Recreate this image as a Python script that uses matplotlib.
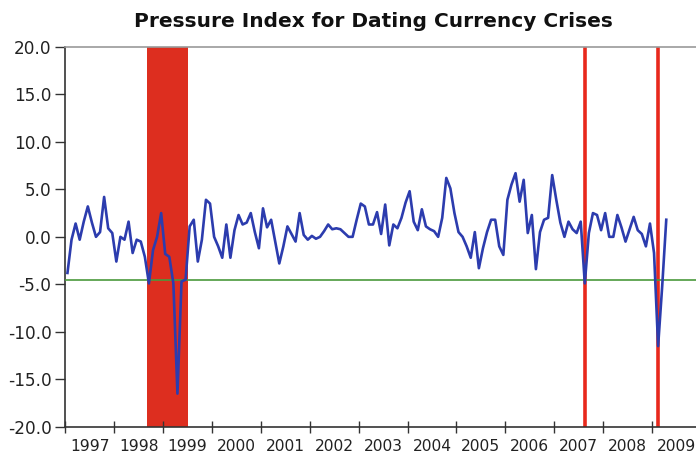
"""
Pressure index chart with crisis episodes marked.
"""

import matplotlib

matplotlib.use("Agg")
import matplotlib.pyplot as plt
import numpy as np
from matplotlib.ticker import FixedLocator, NullFormatter


OUTPUT_PATH = "out.png"

START_YEAR = 1997

# Monthly pressure index, Jan 1997 - Apr 2009
pressure_index = [
    -3.8, -0.3, 1.4, -0.3, 1.6, 3.2, 1.5, 0.0, 0.5, 4.2, 0.9, 0.4,
    -2.6, 0.0, -0.3, 1.6, -1.7, -0.3, -0.5, -2.1, -4.9, -1.4, 0.0, 2.5,
    -1.8, -2.1, -4.9, -16.5, -4.7, -4.5, 1.1, 1.8, -2.6, -0.3, 3.9, 3.5,
    0.0, -1.0, -2.2, 1.3, -2.2, 0.7, 2.3, 1.3, 1.5, 2.5, 0.5, -1.2,
    3.0, 1.0, 1.8, -0.5, -2.8, -1.0, 1.1, 0.3, -0.5, 2.5, 0.2, -0.3,
    0.1, -0.2, 0.0, 0.6, 1.3, 0.8, 0.9, 0.8, 0.4, 0.0, 0.0, 1.8,
    3.5, 3.2, 1.3, 1.3, 2.6, 0.3, 3.4, -0.9, 1.3, 0.9, 2.0, 3.6,
    4.8, 1.6, 0.7, 2.9, 1.1, 0.8, 0.6, 0.0, 2.0, 6.2, 5.1, 2.5,
    0.5, 0.0, -1.0, -2.2, 0.5, -3.3, -1.2, 0.5, 1.8, 1.8, -1.0, -1.9,
    3.9, 5.5, 6.7, 3.7, 6.0, 0.4, 2.3, -3.4, 0.5, 1.8, 2.0, 6.5,
    3.9, 1.5, 0.0, 1.6, 0.8, 0.4, 1.6, -4.9, 0.4, 2.5, 2.3, 0.7,
    2.5, 0.0, 0.0, 2.3, 1.0, -0.5, 0.8, 2.1, 0.7, 0.3, -1.0, 1.4,
    -1.7, -11.5, -5.2, 1.8,
]

# Crisis threshold
threshold = -4.5

# Crisis episodes as (year, month) pairs
crisis_window = [(1998, 9), (1999, 6)]
crisis_months = [(2007, 8), (2009, 2)]

years = list(range(1997, 2010))
y_ticks = [20, 15, 10, 5, 0, -5, -10, -15, -20]


def month_center(year: int, month: int) -> float:
    """Decimal-year position of the middle of a month."""

    return year + (month - 0.5) / 12


def main() -> None:
    """Draw the pressure index chart."""

    months = np.arange(len(pressure_index))
    x = START_YEAR + (months + 0.5) / 12

    fig = plt.figure(figsize=(6.96, 4.59), dpi=100)
    ax = fig.add_axes([0.094, 0.070, 0.906, 0.828])

    # Crisis window, shaded over whole months
    start = crisis_window[0][0] + (crisis_window[0][1] - 1) / 12
    end = crisis_window[1][0] + crisis_window[1][1] / 12
    ax.axvspan(start, end, color="#dd2e1f", lw=0, zorder=1)

    for year, month in crisis_months:
        ax.axvline(month_center(year, month), color="#e8291c", lw=2.6, zorder=2)

    ax.axhline(threshold, color="#4a9a3c", lw=1.2, zorder=3)
    ax.plot(x, pressure_index, color="#2c3cae", lw=1.9, zorder=4)

    ax.set_xlim(1997, 2009.9)
    ax.set_ylim(-20, 20)

    # Year ticks at boundaries, labels centred in each year
    ax.xaxis.set_major_locator(FixedLocator(years))
    ax.xaxis.set_major_formatter(NullFormatter())
    ax.xaxis.set_minor_locator(FixedLocator([y + 0.5 for y in years]))
    ax.set_xticklabels([str(y) for y in years], minor=True)
    ax.tick_params(axis="x", which="major", direction="inout", length=8,
                   width=1, color="#333333")
    ax.tick_params(axis="x", which="minor", length=0, pad=9,
                   labelsize=11.2, labelcolor="#222222")

    ax.set_yticks(y_ticks)
    ax.set_yticklabels([f"{v:.1f}" for v in y_ticks])
    ax.tick_params(axis="y", direction="out", length=7, width=1,
                   color="#333333", labelsize=12.2, labelcolor="#222222", pad=3)

    for name in ["left", "bottom"]:
        ax.spines[name].set_color("#333333")
        ax.spines[name].set_linewidth(1.2)
    ax.spines["top"].set_color("#999999")
    ax.spines["top"].set_linewidth(1.2)
    ax.spines["right"].set_visible(False)

    ax.set_title("Pressure Index for Dating Currency Crises", x=0.489,
                 fontsize=14.5, fontweight="bold", color="#111111", pad=14)

    fig.savefig(OUTPUT_PATH, dpi=100)
    plt.close(fig)


if __name__ == "__main__":
    main()
